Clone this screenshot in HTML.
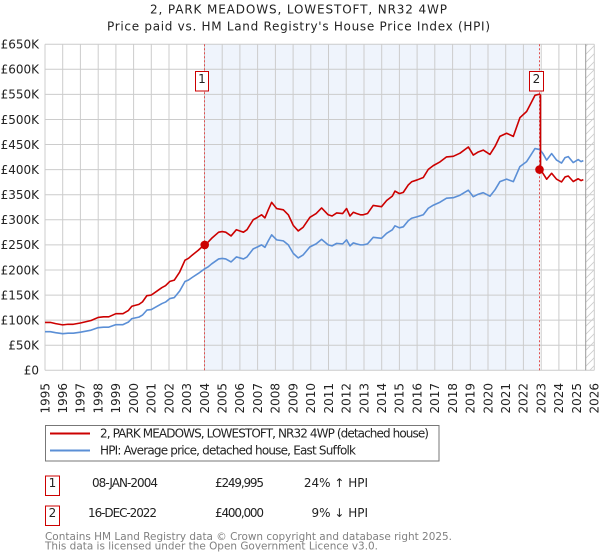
<!DOCTYPE html>
<html><head><meta charset="utf-8"><style>
html,body{margin:0;padding:0;background:#fff;}
svg{display:block;font-family:"DejaVu Sans","Liberation Sans",sans-serif;}
</style></head><body>
<svg width="600" height="560" viewBox="0 0 600 560" xmlns="http://www.w3.org/2000/svg">
<defs>
<pattern id="hatch" patternUnits="userSpaceOnUse" width="8" height="8">
<path d="M0,8 L8,0 M-2,2 L2,-2 M6,10 L10,6" stroke="#cccccc" stroke-width="0.8"/>
</pattern>
</defs>
<rect width="600" height="560" fill="#fff"/>
<!-- title -->
<text x="150" y="13.3" font-size="12" textLength="297" fill="#222">2, PARK MEADOWS, LOWESTOFT, NR32 4WP</text>
<text x="107" y="30.7" font-size="12" textLength="383" fill="#222">Price paid vs. HM Land Registry's House Price Index (HPI)</text>
<!-- shaded region -->
<rect x="204.5" y="44.2" width="335.5" height="326.1" fill="#eff4fc"/>
<rect x="585.7" y="44.2" width="8.6" height="326.1" fill="url(#hatch)"/>
<!-- gridlines -->
<g stroke="#cccccc" stroke-width="1">
<line x1="45" x2="594.3" y1="44.2" y2="44.2"/><line x1="45" x2="594.3" y1="69.3" y2="69.3"/><line x1="45" x2="594.3" y1="94.4" y2="94.4"/><line x1="45" x2="594.3" y1="119.5" y2="119.5"/><line x1="45" x2="594.3" y1="144.5" y2="144.5"/><line x1="45" x2="594.3" y1="169.6" y2="169.6"/><line x1="45" x2="594.3" y1="194.7" y2="194.7"/><line x1="45" x2="594.3" y1="219.8" y2="219.8"/><line x1="45" x2="594.3" y1="244.9" y2="244.9"/><line x1="45" x2="594.3" y1="270" y2="270"/><line x1="45" x2="594.3" y1="295.1" y2="295.1"/><line x1="45" x2="594.3" y1="320.1" y2="320.1"/><line x1="45" x2="594.3" y1="345.2" y2="345.2"/><line x1="45" x2="594.3" y1="370.3" y2="370.3"/>
<line x1="45" x2="45" y1="44.2" y2="370.3"/><line x1="62.7" x2="62.7" y1="44.2" y2="370.3"/><line x1="80.4" x2="80.4" y1="44.2" y2="370.3"/><line x1="98.2" x2="98.2" y1="44.2" y2="370.3"/><line x1="115.9" x2="115.9" y1="44.2" y2="370.3"/><line x1="133.6" x2="133.6" y1="44.2" y2="370.3"/><line x1="151.3" x2="151.3" y1="44.2" y2="370.3"/><line x1="169" x2="169" y1="44.2" y2="370.3"/><line x1="186.8" x2="186.8" y1="44.2" y2="370.3"/><line x1="204.5" x2="204.5" y1="44.2" y2="370.3"/><line x1="222.2" x2="222.2" y1="44.2" y2="370.3"/><line x1="239.9" x2="239.9" y1="44.2" y2="370.3"/><line x1="257.6" x2="257.6" y1="44.2" y2="370.3"/><line x1="275.4" x2="275.4" y1="44.2" y2="370.3"/><line x1="293.1" x2="293.1" y1="44.2" y2="370.3"/><line x1="310.8" x2="310.8" y1="44.2" y2="370.3"/><line x1="328.5" x2="328.5" y1="44.2" y2="370.3"/><line x1="346.2" x2="346.2" y1="44.2" y2="370.3"/><line x1="364" x2="364" y1="44.2" y2="370.3"/><line x1="381.7" x2="381.7" y1="44.2" y2="370.3"/><line x1="399.4" x2="399.4" y1="44.2" y2="370.3"/><line x1="417.1" x2="417.1" y1="44.2" y2="370.3"/><line x1="434.8" x2="434.8" y1="44.2" y2="370.3"/><line x1="452.6" x2="452.6" y1="44.2" y2="370.3"/><line x1="470.3" x2="470.3" y1="44.2" y2="370.3"/><line x1="488" x2="488" y1="44.2" y2="370.3"/><line x1="505.7" x2="505.7" y1="44.2" y2="370.3"/><line x1="523.4" x2="523.4" y1="44.2" y2="370.3"/><line x1="541.2" x2="541.2" y1="44.2" y2="370.3"/><line x1="558.9" x2="558.9" y1="44.2" y2="370.3"/><line x1="576.6" x2="576.6" y1="44.2" y2="370.3"/><line x1="594.3" x2="594.3" y1="44.2" y2="370.3"/>
</g>
<line x1="585.7" x2="585.7" y1="44.2" y2="370.3" stroke="#999" stroke-width="1"/>
<!-- sale dashed lines -->
<g stroke="#e05050" stroke-width="1" stroke-dasharray="2,2">
<line x1="204.5" x2="204.5" y1="44.2" y2="370.3"/>
<line x1="539.5" x2="539.5" y1="44.2" y2="370.3"/>
</g>
<!-- series -->
<g transform="translate(45,370.3) scale(17.72,-0.5017) translate(-1995,0)" fill="none" stroke-linejoin="round">
<polyline id="hpi" vector-effect="non-scaling-stroke" stroke="#5b8fd6" stroke-width="1.6" points="1995.0,77 1995.3,77 1995.6,75 1996.0,73 1996.3,74 1996.6,74 1997.0,76 1997.3,78 1997.6,80 1998.0,85 1998.3,86 1998.6,86 1999.0,91 1999.4,91 1999.7,96 1999.9,103 2000.3,106 2000.5,110 2000.75,120 2001.0,121 2001.2,125 2001.6,133 2001.8,136 2002.05,143 2002.3,145 2002.6,158 2002.9,177 2003.1,180 2003.3,185 2003.65,193 2004.0,202 2004.2,206 2004.4,212 2004.8,222 2005.0,223 2005.2,222 2005.4,218 2005.5,216 2005.8,226 2006.0,224 2006.2,222 2006.4,226 2006.75,242 2007.0,246 2007.22,250 2007.41,245 2007.6,258 2007.79,270 2008.07,260 2008.45,258 2008.73,250 2009.01,233 2009.29,224 2009.57,230 2009.95,246 2010.3,252 2010.61,261 2010.98,250 2011.2,248 2011.46,253 2011.8,252 2012.02,260 2012.21,248 2012.4,254 2012.58,252 2012.8,250 2012.96,250 2013.2,252 2013.52,265 2013.99,263 2014.28,273 2014.6,280 2014.75,288 2015.0,284 2015.22,286 2015.5,298 2015.69,303 2016.0,306 2016.35,310 2016.63,323 2016.91,329 2017.29,335 2017.66,343 2018.04,344 2018.42,349 2018.89,359 2019.17,346 2019.45,351 2019.73,354 2020.11,347 2020.4,360 2020.67,376 2021.05,381 2021.43,376 2021.8,406 2022.18,416 2022.4,428 2022.65,442 2022.93,440 2023.1,432 2023.31,419 2023.59,432 2023.87,419 2024.15,413 2024.35,424 2024.53,426 2024.81,414 2025.09,420 2025.25,416 2025.38,418"/>
<g transform="scale(1,1.24)">
<polyline vector-effect="non-scaling-stroke" stroke="#cc0000" stroke-width="1.6" points="1995.0,77 1995.3,77 1995.6,75 1996.0,73 1996.3,74 1996.6,74 1997.0,76 1997.3,78 1997.6,80 1998.0,85 1998.3,86 1998.6,86 1999.0,91 1999.4,91 1999.7,96 1999.9,103 2000.3,106 2000.5,110 2000.75,120 2001.0,121 2001.2,125 2001.6,133 2001.8,136 2002.05,143 2002.3,145 2002.6,158 2002.9,177 2003.1,180 2003.3,185 2003.65,193 2004.0,202 2004.2,206 2004.4,212 2004.8,222 2005.0,223 2005.2,222 2005.4,218 2005.5,216 2005.8,226 2006.0,224 2006.2,222 2006.4,226 2006.75,242 2007.0,246 2007.22,250 2007.41,245 2007.6,258 2007.79,270 2008.07,260 2008.45,258 2008.73,250 2009.01,233 2009.29,224 2009.57,230 2009.95,246 2010.3,252 2010.61,261 2010.98,250 2011.2,248 2011.46,253 2011.8,252 2012.02,260 2012.21,248 2012.4,254 2012.58,252 2012.8,250 2012.96,250 2013.2,252 2013.52,265 2013.99,263 2014.28,273 2014.6,280 2014.75,288 2015.0,284 2015.22,286 2015.5,298 2015.69,303 2016.0,306 2016.35,310 2016.63,323 2016.91,329 2017.29,335 2017.66,343 2018.04,344 2018.42,349 2018.89,359 2019.17,346 2019.45,351 2019.73,354 2020.11,347 2020.4,360 2020.67,376 2021.05,381 2021.43,376 2021.8,406 2022.18,416 2022.4,428 2022.65,442 2022.85,443.5 2022.96,443.5"/>
</g>
<polyline vector-effect="non-scaling-stroke" stroke="#cc0000" stroke-width="1.6" points="2022.96,550 2022.96,400"/>
<g transform="scale(1,0.909)">
<polyline vector-effect="non-scaling-stroke" stroke="#cc0000" stroke-width="1.6" points="2022.96,440 2023.1,432 2023.31,419 2023.59,432 2023.87,419 2024.15,413 2024.35,424 2024.53,426 2024.81,414 2025.09,420 2025.25,416 2025.38,418"/>
</g>
</g>
<!-- sale dots -->
<circle cx="204.7" cy="244.9" r="4.3" fill="#cc0000"/>
<circle cx="539.5" cy="169.6" r="4.3" fill="#cc0000"/>
<!-- marker boxes -->
<rect x="195.5" y="71.5" width="13" height="19.5" fill="#fff" stroke="#cc0000" stroke-width="1"/>
<text x="202" y="83" font-size="12" text-anchor="middle" fill="#222">1</text>
<rect x="529.5" y="71.5" width="14" height="19.5" fill="#fff" stroke="#cc0000" stroke-width="1"/>
<text x="536.5" y="83" font-size="12" text-anchor="middle" fill="#222">2</text>
<!-- y labels -->
<g font-size="12" text-anchor="end" fill="#222">
<text x="39" y="48.5">£650K</text><text x="39" y="73.6">£600K</text><text x="39" y="98.7">£550K</text><text x="39" y="123.8">£500K</text><text x="39" y="148.8">£450K</text><text x="39" y="173.9">£400K</text><text x="39" y="199">£350K</text><text x="39" y="224.1">£300K</text><text x="39" y="249.2">£250K</text><text x="39" y="274.3">£200K</text><text x="39" y="299.4">£150K</text><text x="39" y="324.4">£100K</text><text x="39" y="349.5">£50K</text><text x="39" y="374.6">£0</text>
</g>
<!-- x labels -->
<g font-size="12" text-anchor="end" fill="#222">
<text transform="translate(49.3,383) rotate(-90)">1995</text><text transform="translate(67,383) rotate(-90)">1996</text><text transform="translate(84.7,383) rotate(-90)">1997</text><text transform="translate(102.5,383) rotate(-90)">1998</text><text transform="translate(120.2,383) rotate(-90)">1999</text><text transform="translate(137.9,383) rotate(-90)">2000</text><text transform="translate(155.6,383) rotate(-90)">2001</text><text transform="translate(173.3,383) rotate(-90)">2002</text><text transform="translate(191.1,383) rotate(-90)">2003</text><text transform="translate(208.8,383) rotate(-90)">2004</text><text transform="translate(226.5,383) rotate(-90)">2005</text><text transform="translate(244.2,383) rotate(-90)">2006</text><text transform="translate(261.9,383) rotate(-90)">2007</text><text transform="translate(279.7,383) rotate(-90)">2008</text><text transform="translate(297.4,383) rotate(-90)">2009</text><text transform="translate(315.1,383) rotate(-90)">2010</text><text transform="translate(332.8,383) rotate(-90)">2011</text><text transform="translate(350.5,383) rotate(-90)">2012</text><text transform="translate(368.3,383) rotate(-90)">2013</text><text transform="translate(386,383) rotate(-90)">2014</text><text transform="translate(403.7,383) rotate(-90)">2015</text><text transform="translate(421.4,383) rotate(-90)">2016</text><text transform="translate(439.1,383) rotate(-90)">2017</text><text transform="translate(456.9,383) rotate(-90)">2018</text><text transform="translate(474.6,383) rotate(-90)">2019</text><text transform="translate(492.3,383) rotate(-90)">2020</text><text transform="translate(510,383) rotate(-90)">2021</text><text transform="translate(527.7,383) rotate(-90)">2022</text><text transform="translate(545.5,383) rotate(-90)">2023</text><text transform="translate(563.2,383) rotate(-90)">2024</text><text transform="translate(580.9,383) rotate(-90)">2025</text><text transform="translate(598.6,383) rotate(-90)">2026</text>
</g>
<!-- legend -->
<rect x="45.5" y="425.5" width="393.5" height="35.5" fill="#fff" stroke="#777" stroke-width="1"/>
<line x1="50" x2="90" y1="433.5" y2="433.5" stroke="#cc0000" stroke-width="2"/>
<line x1="50" x2="90" y1="450.5" y2="450.5" stroke="#5b8fd6" stroke-width="2"/>
<text x="100" y="437.5" font-size="12" textLength="329" fill="#222">2, PARK MEADOWS, LOWESTOFT, NR32 4WP (detached house)</text>
<text x="100" y="454.5" font-size="12" textLength="256" fill="#222">HPI: Average price, detached house, East Suffolk</text>
<!-- table -->
<rect x="45.5" y="476" width="14" height="19.5" fill="#fff" stroke="#cc0000" stroke-width="1"/>
<text x="52.5" y="486.8" font-size="12" text-anchor="middle" fill="#222">1</text>
<rect x="45.5" y="506" width="14" height="19.5" fill="#fff" stroke="#cc0000" stroke-width="1"/>
<text x="52.5" y="516.8" font-size="12" text-anchor="middle" fill="#222">2</text>
<g font-size="12" fill="#222">
<text x="92" y="486.8" textLength="66">08-JAN-2004</text>
<text x="215" y="486.8" textLength="49">£249,995</text>
<text x="368" y="486.8" text-anchor="end">24% ↑ HPI</text>
<text x="88" y="516.8" textLength="69">16-DEC-2022</text>
<text x="215" y="516.8" textLength="49">£400,000</text>
<text x="368" y="516.8" text-anchor="end">9% ↓ HPI</text>
</g>
<!-- footer -->
<text x="45" y="540" font-size="11" fill="#808080" textLength="407" lengthAdjust="spacingAndGlyphs">Contains HM Land Registry data © Crown copyright and database right 2025.</text>
<text x="45" y="549.5" font-size="11" fill="#808080" textLength="333" lengthAdjust="spacingAndGlyphs">This data is licensed under the Open Government Licence v3.0.</text>
</svg>
</body></html>
